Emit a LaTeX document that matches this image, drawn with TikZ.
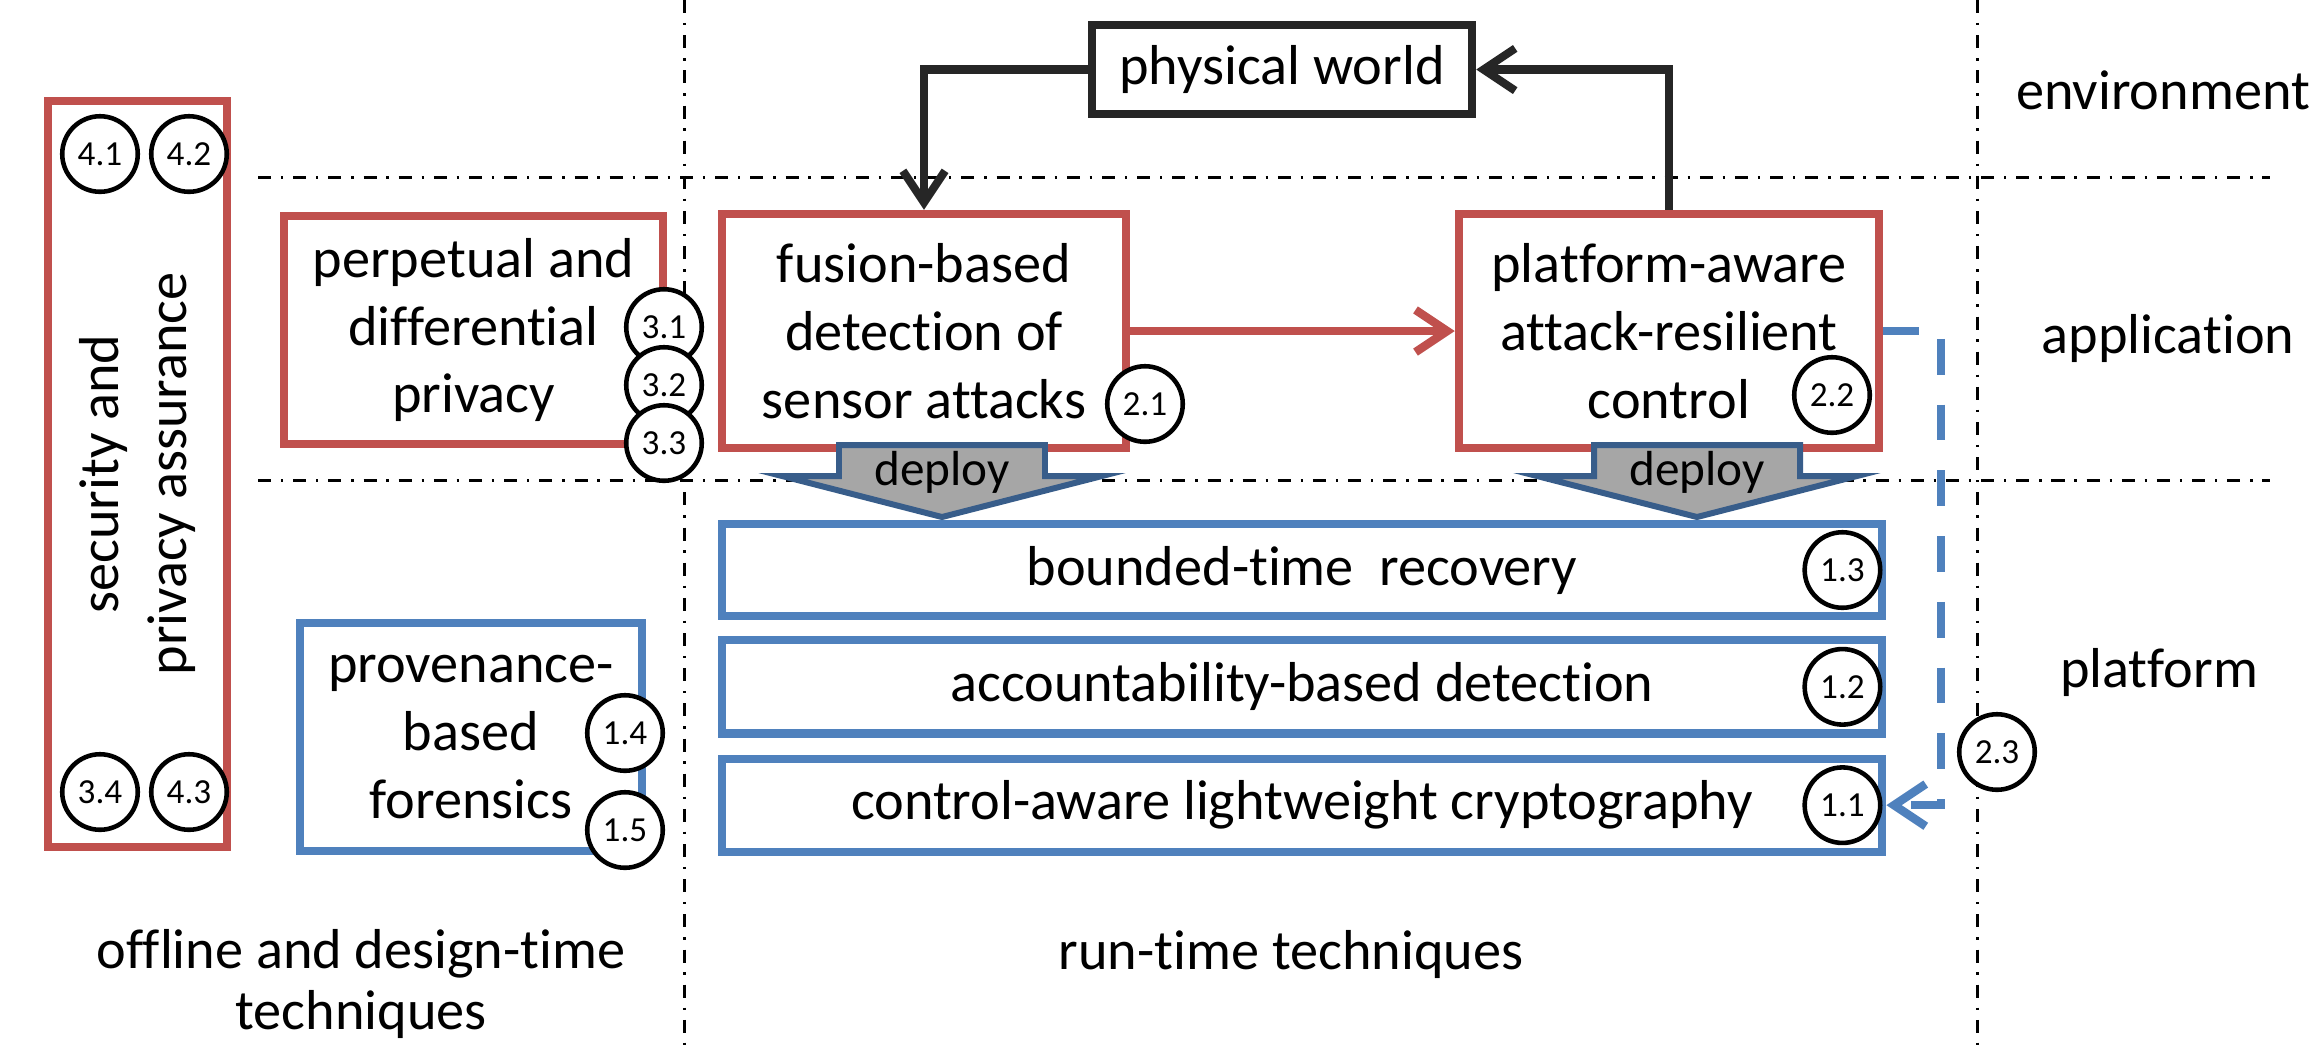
\documentclass[tikz,border=0pt]{standalone}
\usepackage{fontspec}
\setmainfont{Carlito}[Ligatures=NoCommon]
\usetikzlibrary{arrows.meta,positioning}

\definecolor{boxred}{HTML}{C0504D}
\definecolor{boxblue}{HTML}{4F81BD}
\definecolor{deployblue}{HTML}{385D8A}
\definecolor{deploygray}{HTML}{A6A6A6}

\begin{document}
\begin{tikzpicture}[x=0.01cm,y=-0.01cm,>={Straight Barb[length=9pt,width=12pt]},
                    red box/.style={draw=boxred,line width=2.35pt,fill=white,align=center,inner sep=0pt,font=\fontsize{16}{19.3}\selectfont},
                    blue box/.style={red box,draw=boxblue},
                    world box/.style={red box,draw=black!85},
                    num/.style={circle,draw,line width=1.3pt,fill=white,inner sep=0pt,minimum size=0.755cm,font=\fontsize{10}{12}\selectfont},
                    layer/.style={align=center,font=\fontsize{16}{17.6}\selectfont},
                    sep line/.style={line width=0.85pt,dash pattern=on 3.7pt off 2.8pt on 0.7pt off 2.8pt},
                    deploy arrow/.style={draw=deployblue,fill=deploygray,line width=1.7pt,line join=miter},
                    deploy label/.style={inner sep=0pt,font=\fontsize{14}{16}\selectfont},
                    feedback/.style={->,line width=2.3pt,draw=black!85},
                    attack/.style={->,line width=2.4pt,draw=boxred},
                    reconfig/.style={->,line width=2.4pt,draw=boxblue,dash pattern=on 10.2pt off 8.5pt}]
\useasboundingbox (0,0) rectangle (2311,1047);
\fill[white] (0,0) rectangle (2311,1047);

\draw[sep line] (258,177) -- (2270,177);
\draw[sep line] (258,480) -- (2270,480);
\draw[sep line] (684,0) -- (684,1047);
\draw[sep line] (1977,0) -- (1977,1047);

\node[red box,rotate=90,minimum width=7.46cm,minimum height=1.79cm] (assure) at (137.5,474) {security and\\privacy assurance};
\node[red box,minimum width=3.79cm,minimum height=2.28cm] (privacy) at (473.5,330) {perpetual and\\differential\\privacy};
\node[blue box,minimum width=3.42cm,minimum height=2.28cm] (forensic) at (471,737) {provenance-\\based\\forensics};
\node[world box,minimum width=3.80cm,minimum height=0.89cm] (world) at (1282,69.5) {physical world};
\node[red box,minimum width=4.04cm,minimum height=2.34cm] (fusion) at (924,331) {fusion-based\\detection of\\sensor attacks};
\node[red box,minimum width=4.20cm,minimum height=2.34cm] (control) at (1669,331) {platform-aware\\attack-resilient\\control};
\node[blue box,minimum width=11.60cm,minimum height=0.92cm] (recovery) at (1302,570) {bounded-time\ \ recovery};
\node[blue box,minimum width=11.60cm,minimum height=0.93cm,below=0.16cm of recovery] (account) {accountability-based detection};
\node[blue box,minimum width=11.60cm,minimum height=0.93cm,below=0.17cm of account] (crypto) {control-aware lightweight cryptography};

\foreach \x [count=\i] in {942,1697}{
  \draw[deploy arrow] (\x-103,445) -- (\x+103,445) -- (\x+103,476) -- (\x+160,476)
    -- (\x,517) -- (\x-160,476) -- (\x-103,476) -- cycle;
  \node[deploy label] (deploy\i) at (\x,472) {deploy};
}

\node[num] (c41) at (100,154) {4.1};
\node[num] (c42) at (189,154) {4.2};
\node[num] (c34) at (100,792) {3.4};
\node[num] (c43) at (189,792) {4.3};
\node[num] (c31) at (664,327) {3.1};
\node[num] (c32) at (664,385) {3.2};
\node[num] (c33) at (664,443) {3.3};
\node[num] (c14) at (625,733) {1.4};
\node[num] (c15) at (625,830) {1.5};
\node[num] (c21) at (1145,404) {2.1};
\node[num] (c22) at (1832,395) {2.2};
\node[num] (c23) at (1997,752) {2.3};
\node[num] (c13) at ([xshift=-0.44cm]recovery.east) {1.3};
\node[num] (c12) at ([xshift=-0.44cm]account.east) {1.2};
\node[num] (c11) at ([xshift=-0.44cm]crypto.east) {1.1};

\draw[feedback] (world.west) -| (fusion.north);
\draw[feedback] (control.north) |- (world.east);
\draw[attack] (fusion) -- (control);
\draw[reconfig] (control.east) -- ++(58,0) |- (crypto.east);

\node[layer] (offline) at (361,984) {offline and design-time\\techniques};
\node[layer] (runtime) at (1291,954) {run-time techniques};
\node[layer] (env) at (2163,90) {environment};
\node[layer] (app) at (2168,338) {application};
\node[layer] (plat) at (2159,672) {platform};
\end{tikzpicture}
\end{document}
